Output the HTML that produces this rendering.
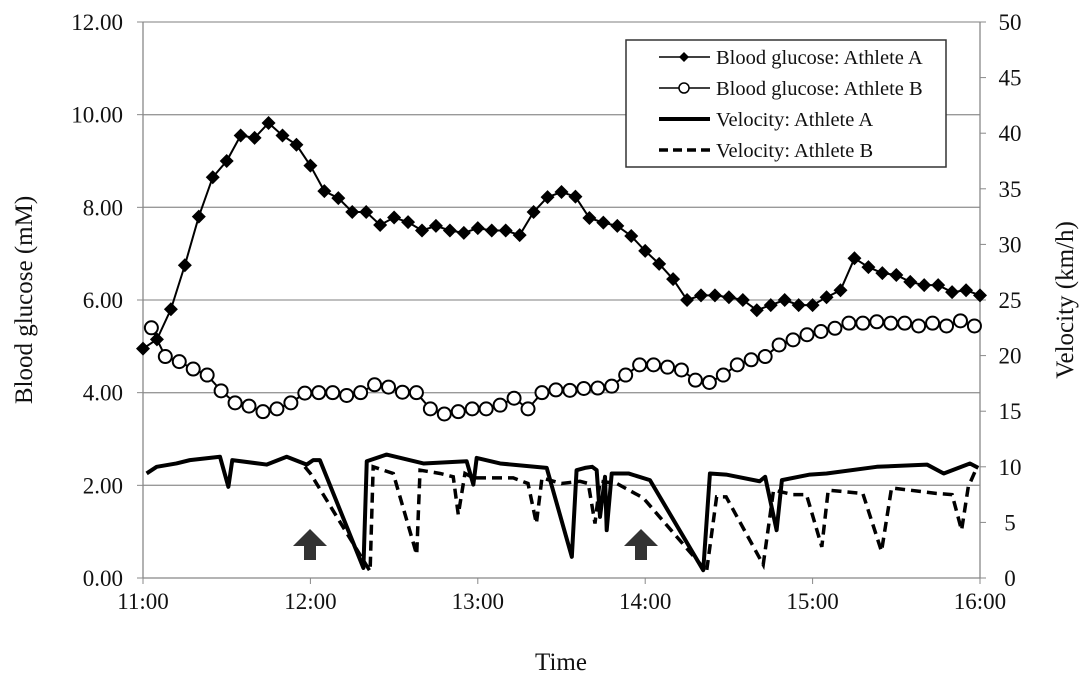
<!DOCTYPE html>
<html><head><meta charset="utf-8"><style>
body{margin:0;background:#fff}
svg text{font-family:"Liberation Serif",serif;fill:#111}
</style></head><body>
<svg id="chart" width="1087" height="686" xmlns="http://www.w3.org/2000/svg">
<g id="grid"></g>
<g id="axes"></g>
<g id="series"></g>
<text x="0" y="0" font-size="25" text-anchor="middle" transform="translate(32,300) rotate(-90)">Blood glucose (mM)</text>
<text x="0" y="0" font-size="25" text-anchor="middle" transform="translate(1073,300) rotate(-90)">Velocity (km/h)</text>
<text x="561" y="670" font-size="25" text-anchor="middle">Time</text>
<path d="M293,546 L310,529 L327,546 L316,546 L316,560 L304,560 L304,546 Z" fill="#333"/>
<path d="M624,546 L641,529 L658,546 L647,546 L647,560 L635,560 L635,546 Z" fill="#333"/>
<g>
<rect x="626" y="40" width="320" height="127" fill="#fff" stroke="#333" stroke-width="1.5"/>
<line x1="659" y1="57" x2="710" y2="57" stroke="#000" stroke-width="1.5"/><path d="M684,52 L689,57 L684,62 L679,57Z" fill="#000"/>
<text x="716" y="64" font-size="20.5">Blood glucose: Athlete A</text>
<line x1="659" y1="88" x2="710" y2="88" stroke="#000" stroke-width="1.5"/><circle cx="684" cy="88" r="5" fill="#fff" stroke="#000" stroke-width="1.5"/>
<text x="716" y="95" font-size="20.5">Blood glucose: Athlete B</text>
<line x1="659" y1="119" x2="710" y2="119" stroke="#000" stroke-width="4"/>
<text x="716" y="126" font-size="20.5">Velocity: Athlete A</text>
<line x1="659" y1="150" x2="710" y2="150" stroke="#000" stroke-width="3.5" stroke-dasharray="9,5"/>
<text x="716" y="157" font-size="20.5">Velocity: Athlete B</text>
</g>
</svg>
<script>
const glucoseA=[4.95,5.15,5.8,6.75,7.8,8.65,9.0,9.55,9.5,9.82,9.55,9.35,8.9,8.35,8.2,7.9,7.9,7.62,7.78,7.68,7.5,7.6,7.5,7.45,7.55,7.5,7.5,7.4,7.9,8.22,8.33,8.23,7.77,7.67,7.6,7.38,7.06,6.78,6.45,6.0,6.1,6.1,6.06,6.0,5.78,5.89,6.0,5.89,5.89,6.06,6.21,6.9,6.71,6.58,6.54,6.39,6.32,6.32,6.17,6.21,6.1];
const glucoseB=[5.4,4.78,4.67,4.51,4.38,4.04,3.78,3.71,3.59,3.65,3.78,3.99,4.0,4.0,3.94,4.0,4.17,4.12,4.01,4.0,3.65,3.54,3.59,3.65,3.65,3.73,3.88,3.65,4.0,4.06,4.05,4.09,4.1,4.14,4.38,4.6,4.6,4.55,4.49,4.27,4.22,4.38,4.6,4.71,4.78,5.03,5.14,5.25,5.32,5.39,5.5,5.5,5.53,5.5,5.5,5.44,5.5,5.44,5.55,5.44];
const velATime=[1.3,4.9,12,16.8,27.6,30.6,32,44.3,51.5,58.7,61,63.4,79,80.2,87.3,100.5,116,118.4,119.6,128,144.7,153.7,155.4,158.4,161,162.6,163.8,165.6,166.2,168,174,181.7,200.8,203.2,209,221,223,227.1,229,239,245,263,281,287,296.4,299.4];
const velA=[9.4,10.0,10.3,10.6,10.9,8.2,10.6,10.2,10.9,10.2,10.6,10.6,0.9,10.5,11.1,10.3,10.5,8.4,10.8,10.3,9.9,1.9,9.7,9.9,10,9.7,5.5,9.1,4.3,9.4,9.4,8.8,0.7,9.4,9.3,8.7,9.1,4.3,8.8,9.3,9.4,10,10.2,9.4,10.3,9.9];
const velBTime=[58,60,81.4,82.5,89.7,98.1,99.3,106.5,111.2,113,115.4,118.4,132.7,138,141,143,150,156.6,159.6,162,163.8,169.8,179.3,202,205.6,209,222.3,226,233,237.8,243.3,245.6,258,264.7,268.3,284.5,290,293.4,295.8,298.8];
const velB=[10,9.4,0.6,10,9.4,2.1,9.7,9.4,9.1,5.7,9.4,9.0,9.0,8.5,4.9,9.0,8.5,8.7,8.5,4.9,8.7,8.5,7.2,0.6,7.3,7.3,1.2,7.9,7.5,7.5,2.8,7.9,7.6,2.4,8.1,7.6,7.5,4.3,8.2,9.9];
const yTicks=["0.00","2.00","4.00","6.00","8.00","10.00","12.00"];
const y2Ticks=["0","5","10","15","20","25","30","35","40","45","50"];
const xTicks=["11:00","12:00","13:00","14:00","15:00","16:00"];

const X0=143,X1=980,Y0=578,Y1=22;
const xs=m=>X0+(X1-X0)*m/300;
const ys=v=>Y0-(Y0-Y1)*v/12;
const ys2=v=>Y0-(Y0-Y1)*v/50;
const NS="http://www.w3.org/2000/svg";
function mk(tag,attrs,parent){const e=document.createElementNS(NS,tag);for(const k in attrs)e.setAttribute(k,attrs[k]);parent.appendChild(e);return e;}
const grid=document.getElementById('grid'),axes=document.getElementById('axes'),ser=document.getElementById('series');
yTicks.forEach((t,i)=>{const y=ys(i*2);
 if(i>0){const g=mk('line',{x1:X0,x2:X1,y1:y,y2:y,stroke:'#999','stroke-width':1.3},grid);
 
 }
 mk('line',{x1:X0-6,x2:X0,y1:y,y2:y,stroke:'#888'},axes);
 const tx=mk('text',{x:X0-20,y:y+8,'font-size':23,'text-anchor':'end'},axes);tx.textContent=t;
 
 });
y2Ticks.forEach((t,i)=>{const y=ys2(i*5);
 mk('line',{x1:X1,x2:X1+6,y1:y,y2:y,stroke:'#888'},axes);
 const tx=mk('text',{x:X1+30,y:y+8,'font-size':23,'text-anchor':'middle'},axes);tx.textContent=t;
 
 });
xTicks.forEach((t,i)=>{const x=xs(i*60);
 mk('line',{x1:X0+0+ (x-X0),x2:x,y1:Y0,y2:Y0+6,stroke:'#888'},axes);
 const tx=mk('text',{x:x,y:Y0+31,'font-size':23,'text-anchor':'middle'},axes);tx.textContent=t;
 
 });
mk('line',{x1:X0,x2:X0,y1:Y1,y2:Y0,stroke:'#888','stroke-width':1.3},axes);
mk('line',{x1:X1,x2:X1,y1:Y1,y2:Y0,stroke:'#888','stroke-width':1.3},axes);
mk('line',{x1:X0,x2:X1,y1:Y0,y2:Y0,stroke:'#888','stroke-width':1.3},axes);

const pA=velATime.map((t,i)=>xs(t)+','+ys2(velA[i])).join(' ');
const la=mk('polyline',{points:pA,fill:'none',stroke:'#000','stroke-width':4,'stroke-linejoin':'round'},ser);


const pB=velBTime.map((t,i)=>xs(t)+','+ys2(velB[i])).join(' ');
const lb=mk('polyline',{points:pB,fill:'none',stroke:'#000','stroke-width':3.5,'stroke-dasharray':'10,6'},ser);



const gB=mk('polyline',{points:glucoseB.map((v,i)=>xs(3+5*i)+','+ys(v)).join(' '),fill:'none',stroke:'#000','stroke-width':2},ser);


glucoseB.forEach((v,i)=>{const c=mk('circle',{cx:xs(3+5*i),cy:ys(v),r:6.5,fill:'#fff',stroke:'#000','stroke-width':2},ser);
 
 });
const gA=mk('polyline',{points:glucoseA.map((v,i)=>xs(5*i)+','+ys(v)).join(' '),fill:'none',stroke:'#000','stroke-width':2},ser);


glucoseA.forEach((v,i)=>{const x=xs(5*i),y=ys(v);
 const d=mk('path',{d:`M${x},${y-7} L${x+7},${y} L${x},${y+7} L${x-7},${y}Z`,fill:'#000'},ser);
 
 });
</script>
</body></html>
